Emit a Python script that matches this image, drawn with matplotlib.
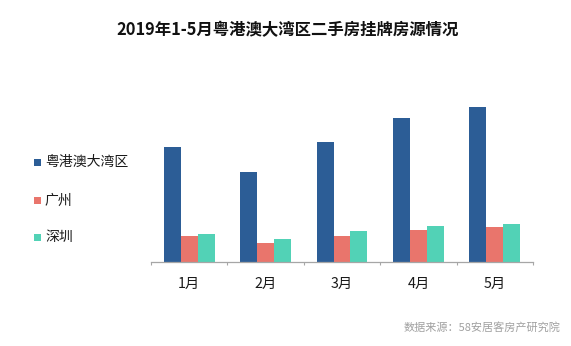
import matplotlib
matplotlib.use("Agg")
import matplotlib.pyplot as plt
from matplotlib.patches import Rectangle
import numpy as np

plt.rcParams['font.family'] = ['Noto Sans CJK SC', 'DejaVu Sans']

months = ["1月", "2月", "3月", "4月", "5月"]
series_names = ["粤港澳大湾区", "广州", "深圳"]
gba = [114.4, 89.4, 120.0, 144.0, 154.7]
guangzhou = [25.4, 19.0, 26.0, 31.4, 35.0]
shenzhen = [28.0, 22.4, 30.7, 36.0, 38.0]
colors = ["#2C5D96", "#E9756C", "#52D2B6"]

title = "2019年1-5月粤港澳大湾区二手房挂牌房源情况"
source = "数据来源：58安居客房产研究院"

fig = plt.figure(figsize=(5.71, 3.46), dpi=100)
W, H = 571, 346
ax = fig.add_axes([151 / W, (H - 261.7) / H, (533 - 151) / W, (261.7 - 90) / H])

x = np.arange(len(months))
width = 0.222
for i, (vals, c) in enumerate(zip([gba, guangzhou, shenzhen], colors)):
    ax.bar(x + (i - 1) * width, vals, width=width, color=c, linewidth=0)

ax.set_xlim(-0.5, len(months) - 0.5)
ax.set_ylim(0, 171.7)
ax.set_yticks([])
for s in ["top", "right", "left"]:
    ax.spines[s].set_visible(False)
ax.spines["bottom"].set_color("#A6A6A6")
ax.spines["bottom"].set_linewidth(0.9)

ax.set_xticks(x)
ax.set_xticklabels(months, fontsize=10.3, color="#1A1A1A")
ax.tick_params(axis="x", which="major", length=0, pad=11)
ax.set_xticks(np.arange(-0.5, len(months)), minor=True)
ax.tick_params(axis="x", which="minor", length=2.5, width=0.8, color="#A6A6A6", direction="out")

fig.text(287.5 / W, 1 - 30 / H, title, ha="center", va="center",
         fontsize=11.8, fontweight="bold", color="#111111")

legend_y = [162, 200.7, 237.3]
for name, c, yy in zip(series_names, colors, legend_y):
    fig.add_artist(Rectangle((34 / W, 1 - (yy + 3.5) / H), 7 / W, 7 / H,
                             transform=fig.transFigure, color=c, linewidth=0))
    fig.text(45 / W, 1 - yy / H, name, ha="left", va="center",
             fontsize=10, color="#1A1A1A")

fig.text(560 / W, 1 - 327 / H, source, ha="right", va="center",
         fontsize=8, color="#A0A0A0")

fig.savefig("out.png", dpi=100)
